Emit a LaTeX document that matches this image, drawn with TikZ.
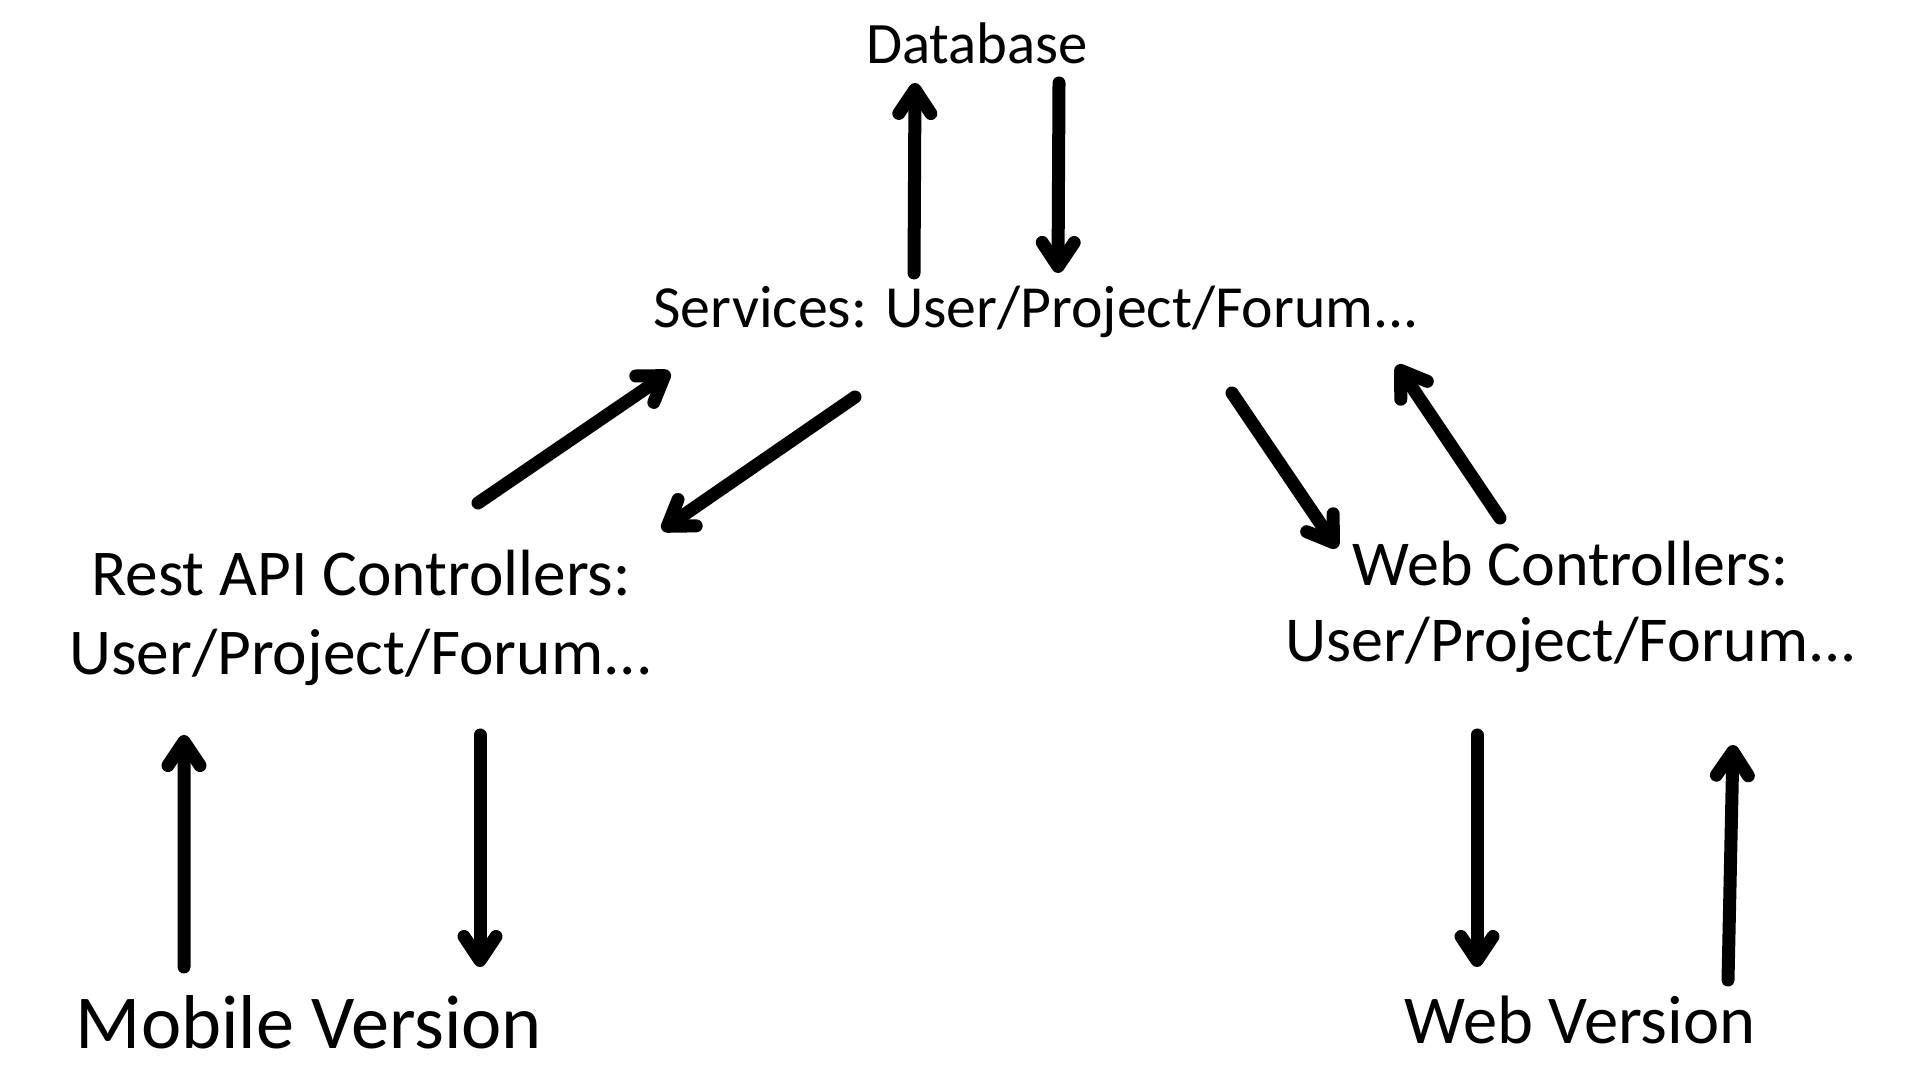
\documentclass[tikz,border=0pt]{standalone}
\usepackage{fontspec}
\setmainfont{Carlito}
\usepackage{tikz}
\usetikzlibrary{arrows.meta, positioning, calc}

\begin{document}
\begin{tikzpicture}[
    txt/.style={align=center, inner sep=0pt},
    flow/.style={-{Straight Barb[length=2.4mm, width=3.2mm, round]}, line width=1.3mm, line cap=round}
]
    \useasboundingbox (0,0) rectangle (19.2,10.8);

    \node[txt, font=\fontsize{16.7}{20}\selectfont] (db) at (9.77, 10.37) {Database};
    \node[txt, font=\fontsize{17}{20}\selectfont] (services) at (10.36, 7.68) {Services: User/Project/Forum...};
    \node[txt, font=\fontsize{18.6}{22.7}\selectfont] (rest) at (3.61, 4.62) {Rest API Controllers:\\User/Project/Forum...};
    \node[txt, font=\fontsize{18.2}{21.6}\selectfont] (webctl) at (15.71, 4.73) {Web Controllers:\\User/Project/Forum...};
    \node[txt, font=\fontsize{21.7}{25}\selectfont] (mobile) at (3.09, 0.58) {Mobile Version};
    \node[txt, font=\fontsize{19.5}{23}\selectfont] (webver) at (15.80, 0.60) {Web Version};

    % services <-> database
    \draw[flow] ([xshift=-1.22cm, yshift=0.39cm]services.center) -- ([xshift=-0.62cm, yshift=-0.40cm]db.center);
    \draw[flow] ([xshift=0.82cm, yshift=-0.40cm]db.center) -- ([xshift=0.22cm, yshift=0.39cm]services.center);

    % rest api <-> services
    \draw[flow] ([xshift=1.17cm, yshift=1.15cm]rest.center) -- ([xshift=-3.66cm, yshift=-0.60cm]services.center);
    \draw[flow] ([xshift=-1.81cm, yshift=-0.85cm]services.center) -- ([xshift=3.01cm, yshift=0.88cm]rest.center);

    % web controllers <-> services
    \draw[flow] ([xshift=1.96cm, yshift=-0.81cm]services.center) -- ([xshift=-2.34cm, yshift=0.59cm]webctl.center);
    \draw[flow] ([xshift=-0.71cm, yshift=0.89cm]webctl.center) -- ([xshift=3.61cm, yshift=-0.53cm]services.center);

    % clients
    \draw[flow] ([xshift=-1.25cm, yshift=0.55cm]mobile.center) -- ([xshift=-1.77cm, yshift=-1.17cm]rest.center);
    \draw[flow] ([xshift=1.19cm, yshift=-1.17cm]rest.center) -- ([xshift=1.71cm, yshift=0.55cm]mobile.center);
    \draw[flow] ([xshift=-0.94cm, yshift=-1.28cm]webctl.center) -- ([xshift=-1.03cm, yshift=0.53cm]webver.center);
    \draw[flow] ([xshift=1.48cm, yshift=0.40cm]webver.center) -- ([xshift=1.62cm, yshift=-1.38cm]webctl.center);
\end{tikzpicture}
\end{document}
